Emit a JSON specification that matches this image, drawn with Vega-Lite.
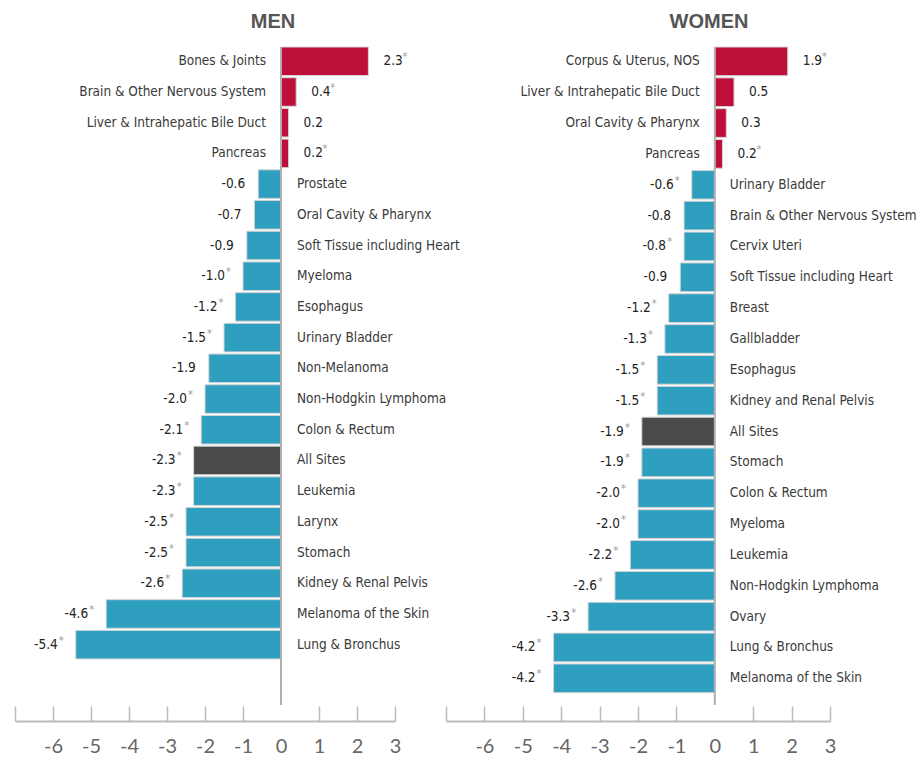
{
  "$schema": "https://vega.github.io/schema/vega-lite/v6.json",
  "padding": {"left": 14, "top": 12, "right": 0, "bottom": 0},
  "background": "white",
  "bounds": "flush",
  "datasets": {
    "men": [
      {"site": "Bones & Joints", "value": 2.3, "label": "2.3", "sig": true, "group": "pos"},
      {"site": "Brain & Other Nervous System", "value": 0.4, "label": "0.4", "sig": true, "group": "pos"},
      {"site": "Liver & Intrahepatic Bile Duct", "value": 0.2, "label": "0.2", "sig": false, "group": "pos"},
      {"site": "Pancreas", "value": 0.2, "label": "0.2", "sig": true, "group": "pos"},
      {"site": "Prostate", "value": -0.6, "label": "-0.6", "sig": false, "group": "neg"},
      {"site": "Oral Cavity & Pharynx", "value": -0.7, "label": "-0.7", "sig": false, "group": "neg"},
      {"site": "Soft Tissue including Heart", "value": -0.9, "label": "-0.9", "sig": false, "group": "neg"},
      {"site": "Myeloma", "value": -1.0, "label": "-1.0", "sig": true, "group": "neg"},
      {"site": "Esophagus", "value": -1.2, "label": "-1.2", "sig": true, "group": "neg"},
      {"site": "Urinary Bladder", "value": -1.5, "label": "-1.5", "sig": true, "group": "neg"},
      {"site": "Non-Melanoma", "value": -1.9, "label": "-1.9", "sig": false, "group": "neg"},
      {"site": "Non-Hodgkin Lymphoma", "value": -2.0, "label": "-2.0", "sig": true, "group": "neg"},
      {"site": "Colon & Rectum", "value": -2.1, "label": "-2.1", "sig": true, "group": "neg"},
      {"site": "All Sites", "value": -2.3, "label": "-2.3", "sig": true, "group": "all"},
      {"site": "Leukemia", "value": -2.3, "label": "-2.3", "sig": true, "group": "neg"},
      {"site": "Larynx", "value": -2.5, "label": "-2.5", "sig": true, "group": "neg"},
      {"site": "Stomach", "value": -2.5, "label": "-2.5", "sig": true, "group": "neg"},
      {"site": "Kidney & Renal Pelvis", "value": -2.6, "label": "-2.6", "sig": true, "group": "neg"},
      {"site": "Melanoma of the Skin", "value": -4.6, "label": "-4.6", "sig": true, "group": "neg"},
      {"site": "Lung & Bronchus", "value": -5.4, "label": "-5.4", "sig": true, "group": "neg"}
    ],
    "women": [
      {"site": "Corpus & Uterus, NOS", "value": 1.9, "label": "1.9", "sig": true, "group": "pos"},
      {"site": "Liver & Intrahepatic Bile Duct", "value": 0.5, "label": "0.5", "sig": false, "group": "pos"},
      {"site": "Oral Cavity & Pharynx", "value": 0.3, "label": "0.3", "sig": false, "group": "pos"},
      {"site": "Pancreas", "value": 0.2, "label": "0.2", "sig": true, "group": "pos"},
      {"site": "Urinary Bladder", "value": -0.6, "label": "-0.6", "sig": true, "group": "neg"},
      {"site": "Brain & Other Nervous System", "value": -0.8, "label": "-0.8", "sig": false, "group": "neg"},
      {"site": "Cervix Uteri", "value": -0.8, "label": "-0.8", "sig": true, "group": "neg"},
      {"site": "Soft Tissue including Heart", "value": -0.9, "label": "-0.9", "sig": false, "group": "neg"},
      {"site": "Breast", "value": -1.2, "label": "-1.2", "sig": true, "group": "neg"},
      {"site": "Gallbladder", "value": -1.3, "label": "-1.3", "sig": true, "group": "neg"},
      {"site": "Esophagus", "value": -1.5, "label": "-1.5", "sig": true, "group": "neg"},
      {"site": "Kidney and Renal Pelvis", "value": -1.5, "label": "-1.5", "sig": true, "group": "neg"},
      {"site": "All Sites", "value": -1.9, "label": "-1.9", "sig": true, "group": "all"},
      {"site": "Stomach", "value": -1.9, "label": "-1.9", "sig": true, "group": "neg"},
      {"site": "Colon & Rectum", "value": -2.0, "label": "-2.0", "sig": true, "group": "neg"},
      {"site": "Myeloma", "value": -2.0, "label": "-2.0", "sig": true, "group": "neg"},
      {"site": "Leukemia", "value": -2.2, "label": "-2.2", "sig": true, "group": "neg"},
      {"site": "Non-Hodgkin Lymphoma", "value": -2.6, "label": "-2.6", "sig": true, "group": "neg"},
      {"site": "Ovary", "value": -3.3, "label": "-3.3", "sig": true, "group": "neg"},
      {"site": "Lung & Bronchus", "value": -4.2, "label": "-4.2", "sig": true, "group": "neg"},
      {"site": "Melanoma of the Skin", "value": -4.2, "label": "-4.2", "sig": true, "group": "neg"}
    ]
  },
  "hconcat": [
    {
      "title": {"text": "MEN", "dx": 68},
      "width": 380,
      "height": 658,
      "data": {"name": "men"},
      "resolve": {"axis": {"x": "independent"}},
      "layer": [
        {
          "mark": {"type": "bar", "stroke": "#d4d4d4", "strokeWidth": 1},
          "encoding": {
            "y": {"field": "site", "type": "nominal", "sort": null, "axis": null, "scale": {"paddingInner": 0.07, "paddingOuter": 0.75, "align": 0}},
            "x": {"field": "value", "type": "quantitative", "scale": {"domain": [-7, 3], "nice": false, "zero": false},
              "axis": {"orient": "bottom", "values": [-7, -5, -3, -1, 1, 3], "labelExpr": "datum.value == -7 ? '' : toString(datum.value)", "labelOverlap": false}},
            "x2": {"datum": 0},
            "color": {"field": "group", "type": "nominal", "scale": {"domain": ["pos", "neg", "all"], "range": ["#BE0F3B", "#2F9FBF", "#4A4A4A"]}, "legend": null}
          }
        },
        {
          "data": {"values": [{"z": 0}]},
          "mark": {"type": "rule", "color": "#b0b0b0", "strokeWidth": 2},
          "encoding": {"x": {"field": "z", "type": "quantitative",
            "axis": {"orient": "bottom", "values": [-6, -4, -2, 0, 2], "labelExpr": "toString(datum.value)", "labelOverlap": false, "domain": false,
              "tickOpacity": {"condition": {"test": "datum.value == 0", "value": 0}, "value": 1}}}}
        },
        {
          "transform": [{"filter": "datum.value >= 0"}],
          "mark": {"type": "text", "align": "right", "dx": -15, "baseline": "middle"},
          "encoding": {"y": {"field": "site", "type": "nominal", "sort": null}, "x": {"datum": 0, "axis": null}, "text": {"field": "site"}}
        },
        {
          "transform": [{"filter": "datum.value < 0"}],
          "mark": {"type": "text", "align": "left", "dx": 16, "baseline": "middle"},
          "encoding": {"y": {"field": "site", "type": "nominal", "sort": null}, "x": {"datum": 0, "axis": null}, "text": {"field": "site"}}
        },
        {
          "transform": [{"filter": "datum.value >= 0"}],
          "mark": {"type": "text", "align": "left", "dx": 15, "baseline": "middle", "color": "#222"},
          "encoding": {"y": {"field": "site", "type": "nominal", "sort": null}, "x": {"field": "value", "type": "quantitative", "axis": null}, "text": {"field": "label"}}
        },
        {
          "transform": [{"filter": "datum.value < 0 && !datum.sig"}],
          "mark": {"type": "text", "align": "right", "dx": -13, "baseline": "middle", "color": "#222"},
          "encoding": {"y": {"field": "site", "type": "nominal", "sort": null}, "x": {"field": "value", "type": "quantitative", "axis": null}, "text": {"field": "label"}}
        },
        {
          "transform": [{"filter": "datum.value < 0 && datum.sig"}],
          "mark": {"type": "text", "align": "right", "dx": -18, "baseline": "middle", "color": "#222"},
          "encoding": {"y": {"field": "site", "type": "nominal", "sort": null}, "x": {"field": "value", "type": "quantitative", "axis": null}, "text": {"field": "label"}}
        },
        {
          "transform": [{"filter": "datum.value >= 0 && datum.sig"}],
          "mark": {"type": "text", "align": "left", "dx": 34, "dy": -4, "baseline": "middle", "color": "#999", "fontSize": 11},
          "encoding": {"y": {"field": "site", "type": "nominal", "sort": null}, "x": {"field": "value", "type": "quantitative", "axis": null}, "text": {"value": "*"}}
        },
        {
          "transform": [{"filter": "datum.value < 0 && datum.sig"}],
          "mark": {"type": "text", "align": "right", "dx": -12, "dy": -4, "baseline": "middle", "color": "#999", "fontSize": 11},
          "encoding": {"y": {"field": "site", "type": "nominal", "sort": null}, "x": {"field": "value", "type": "quantitative", "axis": null}, "text": {"value": "*"}}
        }
      ]
    },
    {
      "title": {"text": "WOMEN", "dx": 71},
      "width": 384,
      "height": 658,
      "data": {"name": "women"},
      "resolve": {"axis": {"x": "independent"}},
      "layer": [
        {
          "mark": {"type": "bar", "stroke": "#d4d4d4", "strokeWidth": 1},
          "encoding": {
            "y": {"field": "site", "type": "nominal", "sort": null, "axis": null, "scale": {"paddingInner": 0.07, "paddingOuter": 0.2, "align": 0}},
            "x": {"field": "value", "type": "quantitative", "scale": {"domain": [-7, 3], "nice": false, "zero": false},
              "axis": {"orient": "bottom", "values": [-7, -5, -3, -1, 1, 3], "labelExpr": "datum.value == -7 ? '' : toString(datum.value)", "labelOverlap": false}},
            "x2": {"datum": 0},
            "color": {"field": "group", "type": "nominal", "scale": {"domain": ["pos", "neg", "all"], "range": ["#BE0F3B", "#2F9FBF", "#4A4A4A"]}, "legend": null}
          }
        },
        {
          "data": {"values": [{"z": 0}]},
          "mark": {"type": "rule", "color": "#b0b0b0", "strokeWidth": 2},
          "encoding": {"x": {"field": "z", "type": "quantitative",
            "axis": {"orient": "bottom", "values": [-6, -4, -2, 0, 2], "labelExpr": "toString(datum.value)", "labelOverlap": false, "domain": false,
              "tickOpacity": {"condition": {"test": "datum.value == 0", "value": 0}, "value": 1}}}}
        },
        {
          "transform": [{"filter": "datum.value >= 0"}],
          "mark": {"type": "text", "align": "right", "dx": -15, "baseline": "middle"},
          "encoding": {"y": {"field": "site", "type": "nominal", "sort": null}, "x": {"datum": 0, "axis": null}, "text": {"field": "site"}}
        },
        {
          "transform": [{"filter": "datum.value < 0"}],
          "mark": {"type": "text", "align": "left", "dx": 15, "baseline": "middle"},
          "encoding": {"y": {"field": "site", "type": "nominal", "sort": null}, "x": {"datum": 0, "axis": null}, "text": {"field": "site"}}
        },
        {
          "transform": [{"filter": "datum.value >= 0"}],
          "mark": {"type": "text", "align": "left", "dx": 15, "baseline": "middle", "color": "#222"},
          "encoding": {"y": {"field": "site", "type": "nominal", "sort": null}, "x": {"field": "value", "type": "quantitative", "axis": null}, "text": {"field": "label"}}
        },
        {
          "transform": [{"filter": "datum.value < 0 && !datum.sig"}],
          "mark": {"type": "text", "align": "right", "dx": -13, "baseline": "middle", "color": "#222"},
          "encoding": {"y": {"field": "site", "type": "nominal", "sort": null}, "x": {"field": "value", "type": "quantitative", "axis": null}, "text": {"field": "label"}}
        },
        {
          "transform": [{"filter": "datum.value < 0 && datum.sig"}],
          "mark": {"type": "text", "align": "right", "dx": -18, "baseline": "middle", "color": "#222"},
          "encoding": {"y": {"field": "site", "type": "nominal", "sort": null}, "x": {"field": "value", "type": "quantitative", "axis": null}, "text": {"field": "label"}}
        },
        {
          "transform": [{"filter": "datum.value >= 0 && datum.sig"}],
          "mark": {"type": "text", "align": "left", "dx": 34, "dy": -4, "baseline": "middle", "color": "#999", "fontSize": 11},
          "encoding": {"y": {"field": "site", "type": "nominal", "sort": null}, "x": {"field": "value", "type": "quantitative", "axis": null}, "text": {"value": "*"}}
        },
        {
          "transform": [{"filter": "datum.value < 0 && datum.sig"}],
          "mark": {"type": "text", "align": "right", "dx": -12, "dy": -4, "baseline": "middle", "color": "#999", "fontSize": 11},
          "encoding": {"y": {"field": "site", "type": "nominal", "sort": null}, "x": {"field": "value", "type": "quantitative", "axis": null}, "text": {"value": "*"}}
        }
      ]
    }
  ],
  "spacing": 51,
  "resolve": {"scale": {"x": "independent", "y": "independent"}},
  "config": {
    "view": {"stroke": null},
    "text": {"font": "DejaVu Sans Condensed, Roboto, sans-serif", "fontSize": 13.5, "color": "#3a3a3a"},
    "title": {"font": "Liberation Sans", "fontSize": 20, "fontWeight": "bold", "color": "#555555", "anchor": "middle", "frame": "group", "offset": 14},
    "axisX": {
      "title": null, "grid": false, "offset": 16, "tickSize": -15, "tickWidth": 1.5, "tickColor": "#bbbbbb",
      "domainColor": "#bbbbbb", "domainWidth": 2, "labelFont": "Lato", "labelFontSize": 20, "labelColor": "#666666",
      "labelPadding": 30, "labelFlush": false
    }
  }
}
